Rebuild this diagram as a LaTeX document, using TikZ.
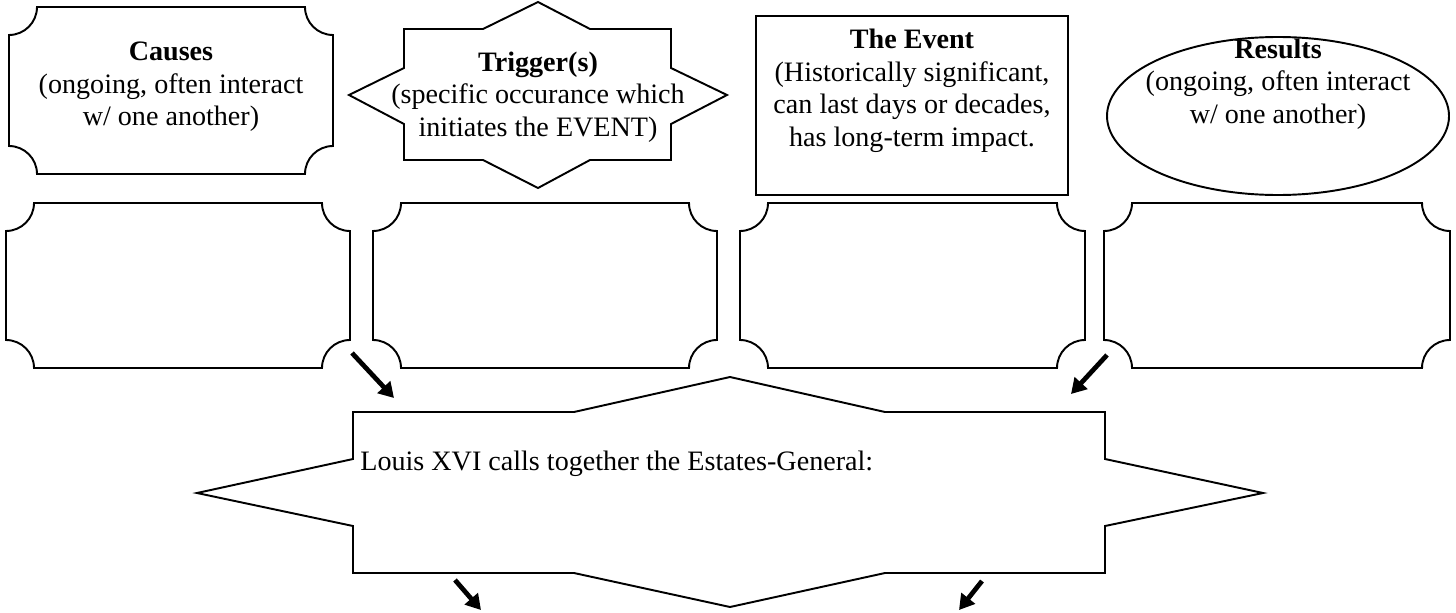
\documentclass[tikz,border=0pt]{standalone}
\usepackage{fontspec}
\setmainfont{Liberation Serif}
\usetikzlibrary{calc, arrows.meta}

\begin{document}
\begin{tikzpicture}[x=0.02cm, y=-0.02cm,
	box text/.style={align=center, font=\fontsize{16}{18.5}\selectfont},
	flow arrow/.style={line width=2.7pt, -{Triangle[length=0.3cm, width=0.34cm]}}]

	\useasboundingbox[fill=white] (0,0) rectangle (1456,612);

	\def\notch{28}

	% Plaque boxes (Causes and the empty row)
	\foreach \xa/\ya/\xb/\yb in {9/7/333/174, 6/203/350/368, 373/203/717/368, 740/203/1085/368, 1104/203/1450/368}
		\draw[line width=1.1pt] (\xa+\notch,\ya) -- (\xb-\notch,\ya)
			arc[start angle=180, end angle=90, radius=\notch] -- (\xb,\yb-\notch)
			arc[start angle=270, end angle=180, radius=\notch] -- (\xa+\notch,\yb)
			arc[start angle=0, end angle=-90, radius=\notch] -- (\xa,\ya+\notch)
			arc[start angle=90, end angle=0, radius=\notch] -- cycle;

	% Trigger star
	\draw[line width=1.1pt] (404,29) -- (483,29) -- (538,2) -- (590,29) -- (671,29) --
		(671,68) -- (727,95) -- (671,124) -- (671,160) -- (590,160) -- (538,188) --
		(483,160) -- (404,160) -- (404,124) -- (349,95) -- (404,68) -- cycle;

	% The Event
	\draw[line width=1.4pt] (756,16) rectangle (1068,195);

	% Results
	\draw[line width=1.1pt] (1278,116) ellipse[x radius=171, y radius=79];

	% Estates-General star
	\draw[line width=1.1pt] (353,412) -- (574,412) -- (730,377) -- (885,412) -- (1105,412) --
		(1105,459) -- (1263,493) -- (1105,526) -- (1105,573) -- (885,573) -- (730,607) --
		(574,573) -- (353,573) -- (353,526) -- (197,493) -- (353,459) -- cycle;

	% Labels
	\node[box text] (causes) at (171,87) {\textbf{Causes}\\(ongoing, often interact\\w/ one another)};
	\node[box text] (trigger) at (538,97) {\textbf{Trigger(s)}\\(specific occurance which\\initiates the EVENT)};
	\node[box text] (event) at (912,91) {\textbf{The Event}\\(Historically significant,\\can last days or decades,\\has long-term impact.};
	\node[box text] (results) at (1278,84) {\textbf{Results}\\(ongoing, often interact\\w/ one another)};
	\node[box text, anchor=base west, inner sep=0pt] (louis) at (360,470) {Louis XVI calls together the Estates-General:};

	% Arrows into and out of the event
	\coordinate (in_left_from) at (352,353);
	\coordinate (in_left_to) at (394,398);
	\coordinate (in_right_from) at (1107,355);
	\coordinate (in_right_to) at (1071,394);
	\coordinate (out_left_from) at (455,580);
	\coordinate (out_left_to) at (481,610);
	\coordinate (out_right_from) at (982,581);
	\coordinate (out_right_to) at (959,610);

	\draw[flow arrow] (in_left_from) -- (in_left_to);
	\draw[flow arrow] (in_right_from) -- (in_right_to);
	\draw[flow arrow] (out_left_from) -- (out_left_to);
	\draw[flow arrow] (out_right_from) -- (out_right_to);

\end{tikzpicture}
\end{document}
